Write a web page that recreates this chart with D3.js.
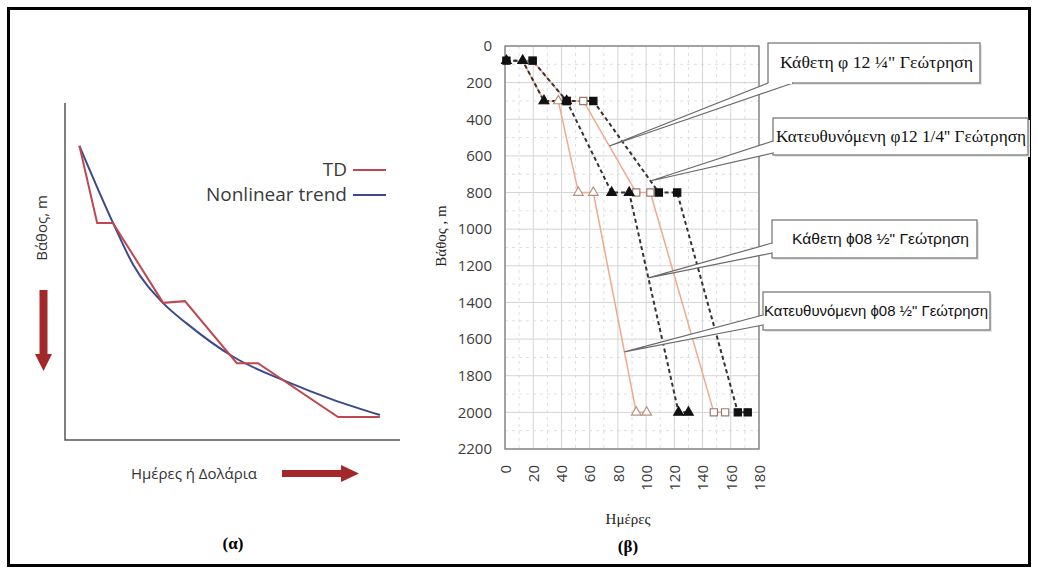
<!DOCTYPE html>
<html>
<head>
<meta charset="utf-8">
<script src="https://cdn.jsdelivr.net/npm/d3@7.9.0/dist/d3.min.js"></script>
<style>
  body { margin: 0; background: #fff; }
  svg { display: block; }
</style>
</head>
<body>
<svg id="chart" width="1038" height="574"></svg>
<script>
// ---- (α) conceptual plot, abstract units 0-100 (depth grows downwards)
const tdX = [4.3, 9.6, 14.3, 29.3, 35.8, 51.3, 57.6, 81.5, 94.0];
const tdY = [12.7, 35.6, 35.6, 59.3, 58.8, 77.2, 77.2, 93.2, 93.2];
const trendX = [4.3, 14.4, 20.4, 29.3, 36.3, 50.2, 66.2, 80.1, 94.0];
const trendY = [12.7, 35.7, 48.1, 59.4, 65.4, 75.3, 82.7, 88.1, 92.6];
const legendLabels = ['TD', 'Nonlinear trend'];

// ---- (β) days vs depth, one list of [days, depth] per well
const openTri = [[12.5, 80], [27.6, 300], [37.8, 300], [52, 800], [62.6, 800], [93, 2000], [100.4, 2000]];
const openSq = [[19.6, 80], [43.7, 300], [55.5, 300], [93, 800], [103, 800], [148, 2000], [156, 2000]];
const filledTri = [[1, 80], [12.5, 80], [27.6, 300], [43.7, 300], [75.6, 800], [88, 800], [123, 2000], [130, 2000]];
const filledSq = [[1, 80], [19.6, 80], [43.7, 300], [62.6, 300], [109, 800], [122, 800], [165, 2000], [172, 2000]];
const xTicks = d3.range(0, 181, 20);
const yTicks = d3.range(0, 2201, 200);

// callouts: text, anchor point on a curve [days, depth]
const calloutText = [
  'Κάθετη φ 12 ¼" Γεώτρηση',
  'Κατευθυνόμενη φ12 1/4\'\' Γεώτρηση',
  'Κάθετη  ϕ08 ½" Γεώτρηση',
  'Κατευθυνόμενη ϕ08 ½" Γεώτρηση'
];
const calloutTip = [[74, 546], [103, 737], [101.6, 1266], [84.6, 1670]];

const svg = d3.select('#chart');
const red = '#c0474f', blue = '#3a4a8c', arrowRed = '#a3282a';

// outer frame
svg.append('rect')
  .attr('x', 8.5).attr('y', 8.5).attr('width', 1021).attr('height', 557)
  .attr('fill', 'none').attr('stroke', '#000').attr('stroke-width', 3);

// ================= (α)
const ax = d3.scaleLinear().domain([0, 100]).range([65, 400]);
const ay = d3.scaleLinear().domain([0, 100]).range([103, 440]);
const left = svg.append('g');

left.append('path')
  .attr('d', `M${ax(0)},${ay(0)}V${ay(100)}H${ax(100)}`)
  .attr('fill', 'none').attr('stroke', '#555').attr('stroke-width', 1.5);

const lineA = d3.line().x(d => ax(d[0])).y(d => ay(d[1]));
left.append('path')
  .attr('d', lineA.curve(d3.curveMonotoneX)(d3.zip(trendX, trendY)))
  .attr('fill', 'none').attr('stroke', blue).attr('stroke-width', 2);
left.append('path')
  .attr('d', lineA.curve(d3.curveLinear)(d3.zip(tdX, tdY)))
  .attr('fill', 'none').attr('stroke', red).attr('stroke-width', 2);

// legend
legendLabels.forEach((lab, i) => {
  const yy = 170 + i * 25;
  left.append('text')
    .attr('x', 347).attr('y', yy + 6).attr('text-anchor', 'end')
    .attr('font-family', 'Open Sans, sans-serif').attr('font-size', 19)
    .attr('fill', '#3a3a3a').text(lab);
  left.append('line')
    .attr('x1', 353).attr('x2', 386).attr('y1', yy).attr('y2', yy)
    .attr('stroke', i === 0 ? red : blue).attr('stroke-width', 2);
});

left.append('text')
  .attr('transform', 'translate(47,228) rotate(-90)')
  .attr('text-anchor', 'middle')
  .attr('font-family', 'Open Sans, sans-serif').attr('font-size', 15)
  .attr('fill', '#333').text('Βάθος, m');

left.append('text')
  .attr('x', 194).attr('y', 479).attr('text-anchor', 'middle')
  .attr('font-family', 'Open Sans, sans-serif').attr('font-size', 15)
  .attr('fill', '#333').text('Ημέρες ή Δολάρια');

// red arrows
left.append('path')
  .attr('d', 'M39.5,290H47.5V354H52L43.5,371L35,354H39.5Z')
  .attr('fill', arrowRed);
left.append('path')
  .attr('d', 'M282,470H341V465L359,473.5L341,482V477H282Z')
  .attr('fill', arrowRed);

left.append('text')
  .attr('x', 233).attr('y', 549).attr('text-anchor', 'middle')
  .attr('font-family', 'Liberation Serif, serif').attr('font-size', 17)
  .attr('font-weight', 'bold').text('(α)');

// ================= (β)
const x = d3.scaleLinear().domain([0, 180]).range([505, 759]);
const y = d3.scaleLinear().domain([0, 2200]).range([46, 449]);
const right = svg.append('g');

// minor grid (dashed)
right.append('g').selectAll('line')
  .data(d3.range(10, 180, 20))
  .join('line')
  .attr('x1', d => x(d)).attr('x2', d => x(d)).attr('y1', y(0)).attr('y2', y(2200))
  .attr('stroke', '#dedede').attr('stroke-dasharray', '3,4');
right.append('g').selectAll('line')
  .data(d3.range(100, 2200, 200))
  .join('line')
  .attr('y1', d => y(d)).attr('y2', d => y(d)).attr('x1', x(0)).attr('x2', x(180))
  .attr('stroke', '#dedede').attr('stroke-dasharray', '3,4');
// major grid
right.append('g').selectAll('line')
  .data(xTicks)
  .join('line')
  .attr('x1', d => x(d)).attr('x2', d => x(d)).attr('y1', y(0)).attr('y2', y(2200))
  .attr('stroke', '#d4d4d4');
right.append('g').selectAll('line')
  .data(yTicks)
  .join('line')
  .attr('y1', d => y(d)).attr('y2', d => y(d)).attr('x1', x(0)).attr('x2', x(180))
  .attr('stroke', '#d4d4d4');

right.append('rect')
  .attr('x', x(0)).attr('y', y(0))
  .attr('width', x(180) - x(0)).attr('height', y(2200) - y(0))
  .attr('fill', 'none').attr('stroke', '#8a8a8a').attr('stroke-width', 1.5);

// axes
const yAxis = right.append('g')
  .attr('transform', `translate(${x(0)},0)`)
  .call(d3.axisLeft(y).tickValues(yTicks).tickFormat(d3.format('d')).tickSize(0).tickPadding(13));
const xAxis = right.append('g')
  .attr('transform', `translate(0,${y(2200)})`)
  .call(d3.axisBottom(x).tickValues(xTicks).tickFormat(d3.format('d')).tickSize(0));
[yAxis, xAxis].forEach(g => {
  g.select('.domain').remove();
  g.selectAll('text')
    .attr('font-family', 'Open Sans, sans-serif').attr('font-size', 15)
    .attr('fill', '#3c3c3c');
});
xAxis.selectAll('text')
  .attr('transform', 'rotate(-90)')
  .attr('x', -16).attr('y', 0).attr('dy', '0.35em')
  .attr('text-anchor', 'end');

right.append('text')
  .attr('transform', 'translate(446,236) rotate(-90)')
  .attr('text-anchor', 'middle')
  .attr('font-family', 'Liberation Serif, serif').attr('font-size', 15)
  .attr('fill', '#222').text('Βάθος , m');
right.append('text')
  .attr('x', 628).attr('y', 524).attr('text-anchor', 'middle')
  .attr('font-family', 'Liberation Serif, serif').attr('font-size', 15)
  .attr('fill', '#222').text('Ημέρες');
right.append('text')
  .attr('x', 628).attr('y', 552).attr('text-anchor', 'middle')
  .attr('font-family', 'Liberation Serif, serif').attr('font-size', 17)
  .attr('font-weight', 'bold').text('(β)');

// series lines
const lineB = d3.line().x(d => x(d[0])).y(d => y(d[1]));
const orange = '#f1a98a';
[openTri, openSq].forEach(s => {
  right.append('path').attr('d', lineB(s))
    .attr('fill', 'none').attr('stroke', orange).attr('stroke-width', 1.5);
});
[filledTri, filledSq].forEach(s => {
  right.append('path').attr('d', lineB(s))
    .attr('fill', 'none').attr('stroke', '#333').attr('stroke-width', 2)
    .attr('stroke-dasharray', '4,3');
});

// markers
const triSym = d3.symbol().type(d3.symbolTriangle).size(40);
const sqSym = d3.symbol().type(d3.symbolSquare).size(52);
function markers(data, sym, fill, stroke) {
  right.append('g').selectAll('path')
    .data(data)
    .join('path')
    .attr('transform', d => `translate(${x(d[0])},${y(d[1])})`)
    .attr('d', sym)
    .attr('fill', fill).attr('stroke', stroke).attr('stroke-width', 1.2);
}
markers(openTri, triSym, '#fff', '#b89080');
markers(openSq, sqSym, '#fff', '#9a7a70');
markers(filledTri, triSym, '#111', '#111');
markers(filledSq, sqSym, '#111', '#111');

// callout boxes
const calloutBox = [
  { x: 768, y: 43, w: 212, h: 40, font: 'Liberation Serif, serif', size: 16, tx: 780, tw: 193, base: [[768, 83], [793, 83]] },
  { x: 773, y: 118, w: 255, h: 37, font: 'Liberation Serif, serif', size: 16, tx: 776, tw: 250, base: [[773, 141], [773, 153]] },
  { x: 772, y: 220, w: 205, h: 38, font: 'Liberation Sans Narrow, Liberation Sans, sans-serif', size: 14, tx: 792, tw: 177, base: [[772, 243], [772, 253]] },
  { x: 763, y: 292, w: 227, h: 38, font: 'Liberation Sans Narrow, Liberation Sans, sans-serif', size: 14, tx: 764, tw: 224, base: [[763, 315], [763, 325]] }
];
calloutBox.forEach((b, i) => {
  const g = svg.append('g');
  const tip = [x(calloutTip[i][0]), y(calloutTip[i][1])];
  const vert = b.base[0][0] === b.base[1][0];
  g.append('rect')
    .attr('x', b.x + 2).attr('y', b.y + 2).attr('width', b.w).attr('height', b.h)
    .attr('fill', '#e6e6e6');
  g.append('rect')
    .attr('x', b.x).attr('y', b.y).attr('width', b.w).attr('height', b.h)
    .attr('fill', '#fff').attr('stroke', '#7a7a7a').attr('stroke-width', 1.3);
  g.append('path')
    .attr('d', `M${b.base[0]}L${tip}L${b.base[1]}`)
    .attr('fill', '#fff').attr('stroke', '#6a6a6a').attr('stroke-width', 1.2);
  g.append('line')
    .attr('x1', b.base[0][0] + (vert ? 0 : 1))
    .attr('y1', b.base[0][1] + (vert ? 1 : 0))
    .attr('x2', b.base[1][0] - (vert ? 0 : 1))
    .attr('y2', b.base[1][1] - (vert ? 1 : 0))
    .attr('stroke', '#fff').attr('stroke-width', 2);
  g.append('text')
    .attr('x', b.tx).attr('y', b.y + b.h / 2 + 5)
    .attr('font-family', b.font).attr('font-size', b.size)
    .attr('fill', '#111')
    .attr('textLength', b.tw).attr('lengthAdjust', 'spacingAndGlyphs')
    .text(calloutText[i]);
});
</script>
</body>
</html>
